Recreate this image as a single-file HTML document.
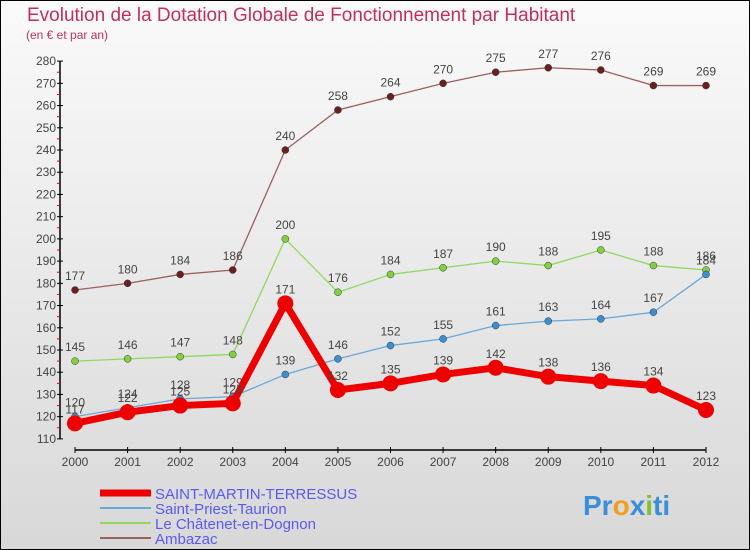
<!DOCTYPE html>
<html><head><meta charset="utf-8"><style>
body{margin:0;width:750px;height:550px;overflow:hidden;font-family:"Liberation Sans",sans-serif}
#wrap{position:absolute;left:0;top:0;width:748px;height:548px;border:1px solid #000;background:linear-gradient(#fafafa,#d8d8d8)}
svg{position:absolute;left:0;top:0}
</style></head><body>
<div id="wrap"></div>
<svg id="c" width="750" height="550">
<text x="27" y="21" font-size="19" fill="#c0305a">Evolution de la Dotation Globale de Fonctionnement par Habitant</text>
<text x="26" y="39" font-size="12" fill="#c0305a">(en € et par an)</text>
<g id="axes"></g><g id="series"></g><g id="legend"></g>
<text x="583" y="515" font-size="28" font-weight="bold" fill="#3a8fd8">Pr<tspan fill="#f0a020">o</tspan><tspan fill="#3a8fd8">x</tspan><tspan fill="#80c030">i</tspan>ti</text>
</svg>
<script>
const years=[2000,2001,2002,2003,2004,2005,2006,2007,2008,2009,2010,2011,2012];
const yTicks=[110,120,130,140,150,160,170,180,190,200,210,220,230,240,250,260,270,280];
const stMartin=[117,122,125,126,171,132,135,139,142,138,136,134,123];
const stPriest=[120,124,128,129,139,146,152,155,161,163,164,167,184];
const chatenet=[145,146,147,148,200,176,184,187,190,188,195,188,186];
const ambazac=[177,180,184,186,240,258,264,270,275,277,276,269,269];
const NS="http://www.w3.org/2000/svg";
const X=i=>75+i*(706-75)/12;
const Y=v=>150+(240-v)*(290-150)/63;
function mk(t,a,p){const e=document.createElementNS(NS,t);for(const k in a)e.setAttribute(k,a[k]);p.appendChild(e);return e;}
const ax=document.getElementById('axes');
let l=mk('line',{x1:60,y1:Y(280),x2:60,y2:Y(110),stroke:'#000','stroke-width':1.5},ax);

l=mk('line',{x1:75,y1:450,x2:706,y2:450,stroke:'#000','stroke-width':1.5},ax);

yTicks.forEach(v=>{mk('line',{x1:57,y1:Y(v),x2:63,y2:Y(v),stroke:'#000'},ax);
 if(v<280)mk('line',{x1:57,y1:Y(v+5),x2:60,y2:Y(v+5),stroke:'#e00'},ax);
 const t=mk('text',{x:56,y:Y(v)+4,'font-size':12,fill:'#444','text-anchor':'end'},ax);t.textContent=v;
 });
years.forEach((y,i)=>{mk('line',{x1:X(i),y1:447,x2:X(i),y2:453,stroke:'#000'},ax);
 const t=mk('text',{x:X(i),y:466,'font-size':12,fill:'#444','text-anchor':'middle'},ax);t.textContent=y;
 });
const ser=[
 {n:'Ambazac',d:ambazac,c:'#6b2020',lc:'#9a6060',w:1.3,r:3.5},
 {n:'Le Châtenet-en-Dognon',d:chatenet,c:'#80d040',lc:'#90d860',w:1.3,r:3.5},
 {n:'Saint-Priest-Taurion',d:stPriest,c:'#3a90d0',lc:'#6aa8d8',w:1.3,r:3.5},
 {n:'SAINT-MARTIN-TERRESSUS',d:stMartin,c:'#ee0000',lc:'#ee0000',w:7,r:8}];
const sg=document.getElementById('series');
ser.forEach(s=>{const g=mk('g',{},sg);
 
 const p=mk('polyline',{points:s.d.map((v,i)=>X(i)+','+Y(v)).join(' '),fill:'none',stroke:s.lc,'stroke-width':s.w},g);
 
 s.d.forEach((v,i)=>{const c=mk('circle',{cx:X(i),cy:Y(v),r:s.r,fill:s.c,stroke:s.r>5?'none':'#333','stroke-width':0.5},g);
  
  const t=mk('text',{x:X(i),y:Y(v)-10,'font-size':12,fill:'#444','text-anchor':'middle'},g);t.textContent=v;
  });});
const lg=document.getElementById('legend');
[...ser].reverse().forEach((s,i)=>{const y=493+i*15;const g=mk('g',{},lg);
 
 mk('line',{x1:100,y1:y,x2:151,y2:y,stroke:s.lc,'stroke-width':i==0?7:2},g);
 const t=mk('text',{x:155,y:y+6,'font-size':15,fill:'#5a5af0'},g);t.textContent=s.n;});
</script>
</body></html>
